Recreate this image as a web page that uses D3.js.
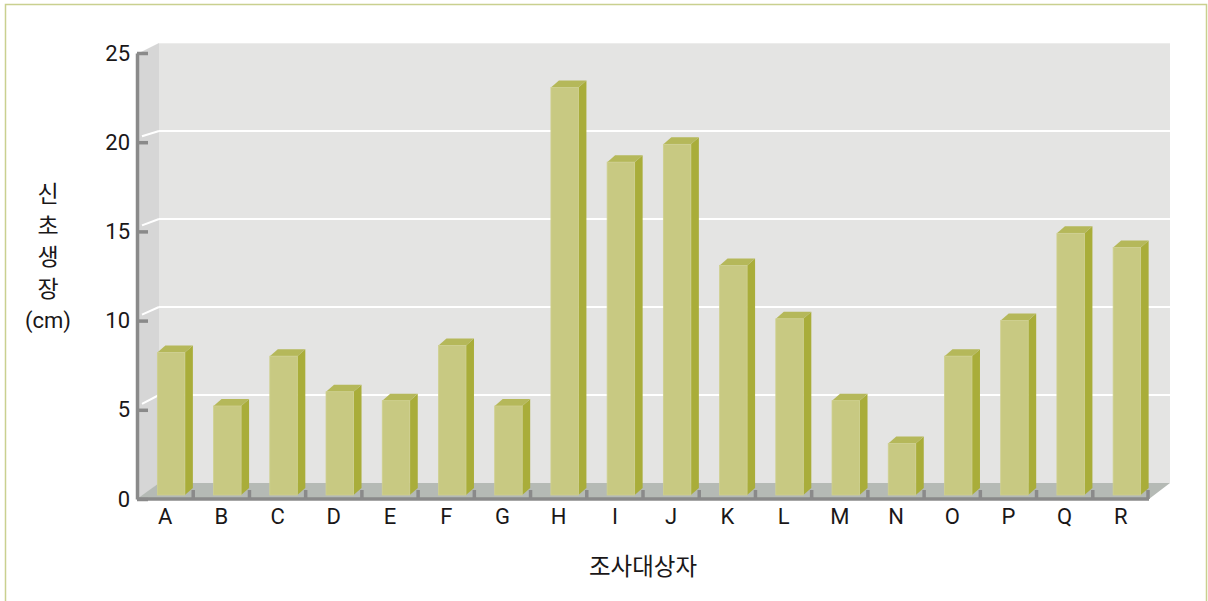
<!DOCTYPE html>
<html><head><meta charset="utf-8">
<script src="https://cdn.jsdelivr.net/npm/d3@7"></script>
<style>
html,body{margin:0;padding:0;background:#fff;}
svg{display:block;}
</style>
</head><body>
<svg id="c" width="1208" height="601"></svg>
<script>
const categories = ["A","B","C","D","E","F","G","H","I","J","K","L","M","N","O","P","Q","R"];
const values = [8, 5, 7.8, 5.8, 5.3, 8.4, 5, 22.9, 18.7, 19.7, 12.9, 9.9, 5.3, 2.9, 7.8, 9.8, 14.7, 13.9];
const yTicks = [0, 5, 10, 15, 20, 25];
const yTitle = ["신", "초", "생", "장", "(cm)"];
const xTitle = "조사대상자";

const svg = d3.select("#c");
const fontFam = "Roboto, 'Noto Sans CJK KR', sans-serif";
const krFam = "'Noto Sans CJK KR', sans-serif";

// geometry
const left = 137, right = 1149, depthX = 22;
const x = d3.scaleBand().domain(categories).range([left, right]).padding(0);
const yFront = d3.scaleLinear().domain([0, 25]).range([499, 53]);
const yBack = d3.scaleLinear().domain([0, 25]).range([483, 43]);
const yBar = d3.scaleLinear().domain([0, 25]).range([495, 50]);

// frame
svg.append("path")
  .attr("d", "M5.5,620 L5.5,4.5 L1206.5,4.5 L1206.5,620")
  .attr("fill", "none").attr("stroke", "#c9d08f").attr("stroke-width", 1.5);

// back wall
const bx0 = left + depthX, bx1 = right + depthX - 1;
svg.append("rect").attr("x", bx0).attr("y", yBack(25)).attr("width", bx1 - bx0).attr("height", yBack(0) - yBack(25))
  .attr("fill", "#e4e4e3");
svg.append("line").attr("x1", bx0).attr("x2", bx1).attr("y1", yBack(25) + 0.5).attr("y2", yBack(25) + 0.5)
  .attr("stroke", "#ececeb").attr("stroke-width", 1);
// side wall
svg.append("polygon")
  .attr("points", [[left + 2, yFront(25)], [bx0, yBack(25)], [bx0, yBack(0)], [left + 2, yFront(0)]].map(p => p.join(",")).join(" "))
  .attr("fill", "#d6d6d6");
// floor
svg.append("polygon")
  .attr("points", [[left, yFront(0)], [bx0, yBack(0)], [bx1, yBack(0)], [right, yFront(0)]].map(p => p.join(",")).join(" "))
  .attr("fill", "#b5bab5");

// gridlines
const gridVals = yTicks.filter(v => v > 0 && v < 25);
svg.append("g").selectAll("line.g1").data(gridVals).join("line")
  .attr("x1", bx0).attr("x2", bx1).attr("y1", d => yBack(d)).attr("y2", d => yBack(d))
  .attr("stroke", "#ffffff").attr("stroke-width", 2);
svg.append("g").selectAll("line.g2").data(gridVals).join("line")
  .attr("x1", left + 5).attr("x2", bx0).attr("y1", d => yFront(d) - 6).attr("y2", d => yBack(d))
  .attr("stroke", "#ffffff").attr("stroke-width", 2);

// bars
const barW = 27.5, dX = 8, dY = 7, shift = 6;
const bars = svg.append("g").selectAll("g").data(categories.map((c, i) => ({c, v: values[i]}))).join("g");
bars.each(function(d) {
  const g = d3.select(this);
  const x0 = x(d.c) + (x.bandwidth() - barW) / 2 + shift;
  const x1 = x0 + barW;
  const yt = yBar(d.v), yb = yBar(0);
  g.append("polygon")
    .attr("points", [[x1, yt], [x1 + dX, yt - dY], [x1 + dX, yb - dY], [x1, yb]].map(p => p.join(",")).join(" "))
    .attr("fill", "#a9ad3a");
  g.append("polygon")
    .attr("points", [[x0, yt], [x0 + dX, yt - dY], [x1 + dX, yt - dY], [x1, yt]].map(p => p.join(",")).join(" "))
    .attr("fill", "#b5b85a");
  g.append("rect").attr("x", x0).attr("y", yt).attr("width", barW).attr("height", yb - yt)
    .attr("fill", "#c8c982").attr("stroke", "#cfd08f").attr("stroke-width", 0.8);
});

// y axis
const yAxis = d3.axisLeft(yFront).tickValues(yTicks).tickSizeInner(-11).tickSizeOuter(0).tickPadding(7);
const yg = svg.append("g").attr("transform", `translate(${left},0)`).call(yAxis);
yg.select(".domain").attr("stroke", "#8a8a8a").attr("stroke-width", 3.5);
yg.selectAll(".tick line").attr("stroke", "#8a8a8a").attr("stroke-width", 3.5);
yg.selectAll(".tick text").attr("font-family", fontFam).attr("font-size", 22).attr("font-weight", 400).attr("fill", "#1a1718");

// x axis
const xAxis = d3.axisBottom(x).tickSize(0).tickPadding(9);
const xg = svg.append("g").attr("transform", `translate(0,${yFront(0)})`).call(xAxis);
xg.select(".domain").attr("stroke", "#8a8a8a").attr("stroke-width", 3.5).attr("d", `M${left},0H${right}`);
xg.selectAll(".tick text").attr("font-family", fontFam).attr("font-size", 22).attr("font-weight", 400).attr("fill", "#1a1718");
// boundary ticks
const bounds = categories.slice(1).map(c => x(c)).concat([right - 1]);
svg.append("g").selectAll("line").data(bounds).join("line")
  .attr("x1", d => d).attr("x2", d => d).attr("y1", yFront(0) - 9).attr("y2", yFront(0))
  .attr("stroke", "#8a8a8a").attr("stroke-width", 3.5);

// titles
svg.append("g").selectAll("text").data(yTitle).join("text")
  .attr("x", 48).attr("y", (d, i) => 194 + i * 31.5).attr("dy", "0.35em")
  .attr("text-anchor", "middle").attr("font-family", (d, i) => i < 4 ? krFam : fontFam)
  .attr("font-size", (d, i) => i < 4 ? 23 : 22).attr("font-weight", 400).attr("fill", "#1a1718")
  .text(d => d);
svg.append("text").attr("x", 643).attr("y", 567).attr("dy", "0.35em")
  .attr("text-anchor", "middle").attr("font-family", krFam).attr("font-size", 23.5).attr("font-weight", 400).attr("fill", "#1a1718")
  .text(xTitle);
</script>
</body></html>
